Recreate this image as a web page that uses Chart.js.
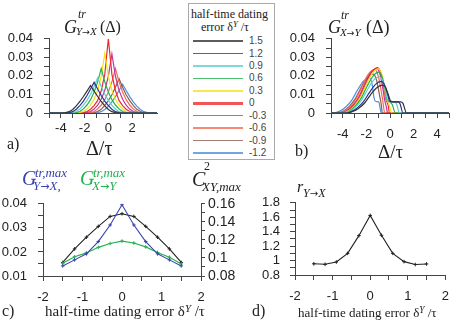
<!DOCTYPE html>
<html>
<head>
<meta charset="utf-8">
<script src="https://cdn.jsdelivr.net/npm/chart.js@4.4.0/dist/chart.umd.min.js"></script>
<style>
  body { margin: 0; background: #fff; }
  #fig { position: relative; width: 458px; height: 330px; overflow: hidden; font-family: 'Liberation Serif', serif; color: #222; }
  canvas { position: absolute; }
  .t { position: absolute; white-space: nowrap; }
  .i { font-style: italic; }
  .s { font-family: 'Liberation Sans', Arial, sans-serif; }
  .up { position: relative; top: -0.45em; font-size: 0.72em; font-style: italic; }
  .ar { font-family: 'DejaVu Sans', sans-serif; font-style: normal; font-size: 0.85em; }
  #legend { position: absolute; left: 188px; top: 3px; width: 87px; height: 157px; border: 1px solid #aaa; box-sizing: border-box; }
</style>
</head>
<body>
<div id="fig">
  <div id="legend"></div>
  <canvas id="ca" width="170" height="122" style="left:0;top:20px"></canvas>
  <canvas id="cb" width="178" height="122" style="left:280px;top:20px"></canvas>
  <canvas id="cc" width="250" height="125" style="left:0;top:185px"></canvas>
  <canvas id="cd" width="208" height="125" style="left:250px;top:185px"></canvas>
</div>
<script>
// legend / curve parameter: half-time dating error
const deltas = [1.5, 1.2, 0.9, 0.6, 0.3, 0, -0.3, -0.6, -0.9, -1.2];
const colors = ['#333333', '#2c3593', '#5fcfcf', '#22b24c', '#f2e21a', '#ee2a2a', '#c2339e', '#f26b4f', '#8f5c54', '#4f8fdc'];

// panel a: G^tr_{Y->X}(Delta), common Delta/tau grid
const gridA = [-5.1, -4.8, -4.5, -4.2, -3.9, -3.6, -3.3, -3.0, -2.7, -2.4, -2.1, -1.8, -1.5, -1.2, -0.9, -0.6,
  -0.3, 0, 0.3, 0.6, 0.9, 1.2, 1.5, 1.8, 2.1, 2.4, 2.7, 3.0, 3.3, 3.6, 3.9, 4.2];
const yx15  = [0,0,0,0,0,.0002,.0007,.0019,.0038,.0062,.0089,.0118,.0148,.0118,.0089,.0062,.0038,.0019,.0007,.0002,0,0,0,0,0,0,0,0,0,0,0,0];
const yx12  = [0,0,0,0,0,0,.0002,.0007,.002,.004,.0064,.0094,.0129,.0165,.0129,.0094,.0064,.004,.002,.0007,.0002,0,0,0,0,0,0,0,0,0,0,0];
const yx09  = [0,0,0,0,0,0,0,.0002,.0008,.0021,.0042,.0068,.0101,.0143,.019,.0143,.0101,.0068,.0042,.0021,.0008,.0002,0,0,0,0,0,0,0,0,0,0];
const yx06  = [0,0,0,0,0,0,0,0,.0002,.0008,.0022,.0043,.0072,.0113,.0168,.024,.0168,.0113,.0072,.0043,.0022,.0008,.0002,0,0,0,0,0,0,0,0,0];
const yx03  = [0,0,0,0,0,0,0,0,0,.0003,.0008,.0021,.0042,.0074,.0122,.0198,.032,.0198,.0122,.0074,.0042,.0021,.0008,.0003,0,0,0,0,0,0,0,0];
const yx00  = [0,0,0,0,0,0,0,0,0,0,.0002,.0008,.002,.004,.0068,.012,.0208,.040,.0208,.012,.0068,.004,.002,.0008,.0002,0,0,0,0,0,0,0];
const yxm03 = [0,0,0,0,0,0,0,0,0,0,0,.0003,.0008,.0021,.0042,.0074,.0122,.0198,.0318,.0198,.0122,.0074,.0042,.0021,.0008,.0003,0,0,0,0,0,0];
const yxm06 = [0,0,0,0,0,0,0,0,0,0,0,0,.0002,.0008,.0022,.0043,.0072,.0113,.0168,.024,.0168,.0113,.0072,.0043,.0022,.0008,.0002,0,0,0,0,0];
const yxm09 = [0,0,0,0,0,0,0,0,0,0,0,0,0,.0002,.0008,.002,.0041,.0067,.0098,.0139,.0185,.0139,.0098,.0067,.0041,.002,.0008,.0002,0,0,0,0];
const yxm12 = [0,0,0,0,0,0,0,0,0,0,0,0,0,0,.0002,.0007,.0019,.0037,.006,.0088,.0121,.0155,.0121,.0088,.006,.0037,.0019,.0007,.0002,0,0,0];

// panel b: G^tr_{X->Y}(Delta), [Delta/tau, value]
const xy15  = [[-5,0],[-3.65,0],[-3.15,.0008],[-2.65,.0026],[-2.15,.0054],[-1.65,.0098],[-1.15,.0135],[-0.65,.015],[-0.35,.0135],[-0.1,.009],[0.05,.0065],[0.3,.006],[0.9,.006],[1.1,.0052],[1.4,0],[5,0]];
const xy12  = [[-5,0],[-3.75,0],[-3.25,.0009],[-2.75,.0029],[-2.25,.0061],[-1.75,.011],[-1.25,.0153],[-0.75,.017],[-0.45,.015],[-0.2,.01],[-0.05,.0065],[0.2,.006],[0.65,.006],[0.85,.005],[1.1,0],[5,0]];
const xy09  = [[-5,0],[-3.9,0],[-3.4,.001],[-2.9,.0033],[-2.4,.007],[-1.9,.0127],[-1.4,.0176],[-0.9,.0195],[-0.6,.017],[-0.35,.011],[-0.2,.0068],[0.05,.006],[0.35,.006],[0.55,.005],[0.8,0],[5,0]];
const xy06  = [[-5,0],[-3.95,0],[-3.45,.0011],[-2.95,.0037],[-2.45,.0079],[-1.95,.0143],[-1.45,.0198],[-0.95,.022],[-0.65,.019],[-0.4,.012],[-0.25,.007],[0,.006],[0.2,.0045],[0.45,0],[5,0]];
const xy03  = [[-5,0],[-4,0],[-3.5,.0012],[-3,.004],[-2.5,.0086],[-2,.0155],[-1.5,.0214],[-1,.0238],[-0.7,.021],[-0.45,.013],[-0.3,.0075],[-0.1,.005],[0.15,0],[5,0]];
const xy00  = [[-5,0],[-4.05,0],[-3.55,.0012],[-3.05,.0042],[-2.55,.0088],[-2.05,.0159],[-1.55,.022],[-1.05,.0245],[-0.75,.021],[-0.5,.013],[-0.35,.0075],[-0.15,.004],[-0.05,0],[5,0]];
const xym03 = [[-5,0],[-4.15,0],[-3.65,.0012],[-3.15,.0041],[-2.65,.0086],[-2.15,.0156],[-1.65,.0216],[-1.15,.024],[-0.85,.021],[-0.6,.013],[-0.45,.007],[-0.3,.003],[-0.2,0],[5,0]];
const xym06 = [[-5,0],[-4.3,0],[-3.8,.0012],[-3.3,.004],[-2.8,.0085],[-2.3,.0153],[-1.8,.0212],[-1.3,.0235],[-1.0,.02],[-0.75,.012],[-0.6,.006],[-0.45,0],[5,0]];
const xym09 = [[-5,0],[-4.45,0],[-3.95,.0011],[-3.45,.0036],[-2.95,.0076],[-2.45,.0137],[-1.95,.0189],[-1.45,.021],[-1.15,.018],[-0.9,.01],[-0.75,.005],[-0.65,0],[5,0]];
const xym12 = [[-5,0],[-4.75,0],[-4.25,.001],[-3.75,.0032],[-3.25,.0068],[-2.75,.0124],[-2.25,.0171],[-1.75,.019],[-1.5,.015],[-1.35,.008],[-1.2,.0062],[-0.95,.006],[-0.85,.003],[-0.75,0],[5,0]];

// panels c, d: maxima vs dating error
const deltaC = [-1.5, -1.2, -0.9, -0.6, -0.3, 0, 0.3, 0.6, 0.9, 1.2, 1.5];
const gMaxYX = [0.0142, 0.0167, 0.0192, 0.0243, 0.0312, 0.0396, 0.0312, 0.0243, 0.0192, 0.0167, 0.0142];
const gMaxXY = [0.0153, 0.018, 0.0196, 0.0219, 0.0235, 0.0245, 0.0237, 0.0221, 0.0198, 0.0178, 0.015];
const c2Max  = [0.095, 0.11, 0.123, 0.135, 0.146, 0.149, 0.146, 0.135, 0.123, 0.11, 0.095];
const rYX    = [0.955, 0.948, 0.98, 1.1, 1.345, 1.625, 1.35, 1.1, 0.985, 0.945, 0.953];

Chart.defaults.font.family = 'Liberation Sans';
const fig = document.getElementById('fig');
const tickFont = { family: 'Liberation Sans', size: 13 };
const AR = '<span class="ar">→</span>';

function put(x, base, size, html, cls, color) {
  const d = document.createElement('div');
  d.className = 't ' + (cls || '');
  d.style.left = x + 'px';
  d.style.top = (base - 0.84 * size) + 'px';
  d.style.fontSize = size + 'px';
  d.style.lineHeight = size + 'px';
  if (color) d.style.color = color;
  d.innerHTML = html;
  fig.appendChild(d);
}

function axis(o) {
  return {
    type: 'linear', min: o.min, max: o.max, position: o.pos,
    afterFit: s => { if (o.w !== undefined) s.width = o.w; if (o.h !== undefined) s.height = o.h; },
    afterBuildTicks: s => { s.ticks = s.ticks.filter(t => Math.abs(t.value / o.step - Math.round(t.value / o.step)) < 1e-6); },
    grid: { drawOnChartArea: false, tickLength: o.tl || 5, color: '#444', tickWidth: 1 },
    border: { color: '#444', width: 1 },
    ticks: {
      stepSize: o.step, autoSkip: false, maxRotation: 0, padding: o.pad,
      font: o.font || tickFont, color: '#222',
      callback: v => Math.round(v / o.step) % 2 === 0 ? String(Number(v.toFixed(o.dec))) : ''
    }
  };
}

function baseOpts(pad, scales) {
  return {
    animation: false, responsive: false, devicePixelRatio: 1, events: [],
    layout: { padding: pad },
    plugins: { legend: { display: false }, tooltip: { enabled: false } },
    scales: scales
  };
}

// panel a
const aSeries = [yx15, yx12, yx09, yx06, yx03, yx00, yxm03, yxm06, yxm09, yxm12];
new Chart(document.getElementById('ca'), {
  type: 'line',
  data: {
    datasets: aSeries.map((ys, k) => ({
      data: gridA.map((x, i) => ({ x: x, y: ys[i] })),
      borderColor: colors[k], borderWidth: 1.2, pointRadius: 0, tension: 0
    }))
  },
  options: baseOpts({ top: 13, right: 13, left: 0, bottom: 0 }, {
    x: axis({ min: -5, max: 4.1, step: 1, dec: 0, pos: 'bottom', h: 29, pad: 3 }),
    y: axis({ min: 0, max: 0.04, step: 0.005, dec: 2, pos: 'left', w: 49, pad: 11 })
  })
});

// panel b
const bSeries = [xy15, xy12, xy09, xy06, xy03, xy00, xym03, xym06, xym09, xym12];
new Chart(document.getElementById('cb'), {
  type: 'line',
  data: {
    datasets: bSeries.map((pts, k) => ({
      data: pts.map(p => ({ x: p[0], y: p[1] })),
      borderColor: colors[k], borderWidth: 1.2, pointRadius: 0, cubicInterpolationMode: 'monotone'
    }))
  },
  options: baseOpts({ top: 14, right: 9, left: 0, bottom: 0 }, {
    x: axis({ min: -5, max: 5, step: 1, dec: 0, pos: 'bottom', h: 29, pad: 9 }),
    y: axis({ min: 0, max: 0.04, step: 0.005, dec: 2, pos: 'left', w: 51, pad: 11 })
  })
});

// panel c
const blue = '#3a44ac', green = '#22b24c';
function pts(ys) { return deltaC.map((x, i) => ({ x: x, y: ys[i] })); }
const markers = { pointStyle: 'cross', pointRadius: 1.8, pointBorderWidth: 1, borderWidth: 1.1, tension: 0 };
new Chart(document.getElementById('cc'), {
  type: 'line',
  data: {
    datasets: [
      Object.assign({ data: pts(gMaxYX), borderColor: blue, pointBorderColor: blue, yAxisID: 'y' }, markers),
      Object.assign({ data: pts(gMaxXY), borderColor: green, pointBorderColor: green, yAxisID: 'y' }, markers),
      Object.assign({ data: pts(c2Max), borderColor: '#222', pointBorderColor: '#222', yAxisID: 'y2' }, markers)
    ]
  },
  options: baseOpts({ top: 13, right: 0, left: 0, bottom: 0 }, {
    x: axis({ min: -2, max: 2, step: 0.5, dec: 0, pos: 'bottom', h: 34, pad: 9 }),
    y: axis({ min: 0.01, max: 0.04, step: 0.005, dec: 3, pos: 'left', w: 43, pad: 11 }),
    y2: axis({ min: 0.08, max: 0.16, step: 0.01, dec: 2, pos: 'right', w: 49, pad: 3, tl: 4, font: { family: 'Liberation Sans', size: 14 } })
  })
});

// panel d
new Chart(document.getElementById('cd'), {
  type: 'line',
  data: {
    datasets: [Object.assign({ data: pts(rYX), borderColor: '#222', pointBorderColor: '#222' }, markers)]
  },
  options: baseOpts({ top: 13, right: 6, left: 0, bottom: 0 }, {
    x: axis({ min: -2, max: 2, step: 0.5, dec: 0, pos: 'bottom', h: 35, pad: 9 }),
    y: axis({ min: 0.8, max: 1.8, step: 0.1, dec: 1, pos: 'left', w: 45, pad: 10 })
  })
});

// legend box
put(191, 18, 12, 'half-time dating');
put(201, 31, 12, 'error δ<span class="up">Y</span> /τ');
deltas.forEach((d, k) => {
  const y = 41 + k * 12.44;
  const lw = d === 0 ? 3 : 1.6;
  const ln = document.createElement('div');
  ln.style.cssText = 'position:absolute;left:193px;width:50px;top:' + (y - lw / 2) + 'px;height:' + lw + 'px;background:' + colors[k] + ';opacity:0.8';
  fig.appendChild(ln);
  put(249, y + 3.5, 10, String(d), 's', '#444');
});

// titles and labels
put(64, 33, 18, 'G', 'i');
put(78, 18, 12, 'tr', 'i');
put(76, 35, 11, 'Y' + AR + 'X', 'i');
put(100, 32, 16, '(Δ)');
put(86, 155, 20, 'Δ/τ');
put(7, 149, 16, 'a)');

put(328, 33, 18, 'G', 'i');
put(341, 19, 12, 'tr', 'i');
put(340, 36, 11, 'X' + AR + 'Y', 'i');
put(366, 33, 18, '(Δ)');
put(378, 158, 19, 'Δ/τ');
put(295, 156, 16, 'b)');

put(22, 185, 20, 'G', 'i', blue);
put(35, 177, 13, 'tr,max', 'i', blue);
put(33, 190, 13, 'Y' + AR + 'X,', 'i', blue);
put(80, 185, 20, 'G', 'i', green);
put(93, 177, 13, 'tr,max', 'i', green);
put(92, 190, 13, 'X' + AR + 'Y', 'i', green);
put(192, 186, 20, 'C', 'i');
put(204, 170, 12, '2');
put(202, 191, 13, 'XY,max', 'i');
put(2, 316, 16, 'c)');
put(45, 317, 15, 'half-time dating error δ<span class="up">Y</span> /τ');

put(297, 192, 16, 'r', 'i');
put(303, 197, 12, 'Y' + AR + 'X', 'i');
put(252, 316, 16, 'd)');
put(298, 317, 13, 'half-time dating error δ<span class="up">Y</span> /τ');
</script>
</body>
</html>
